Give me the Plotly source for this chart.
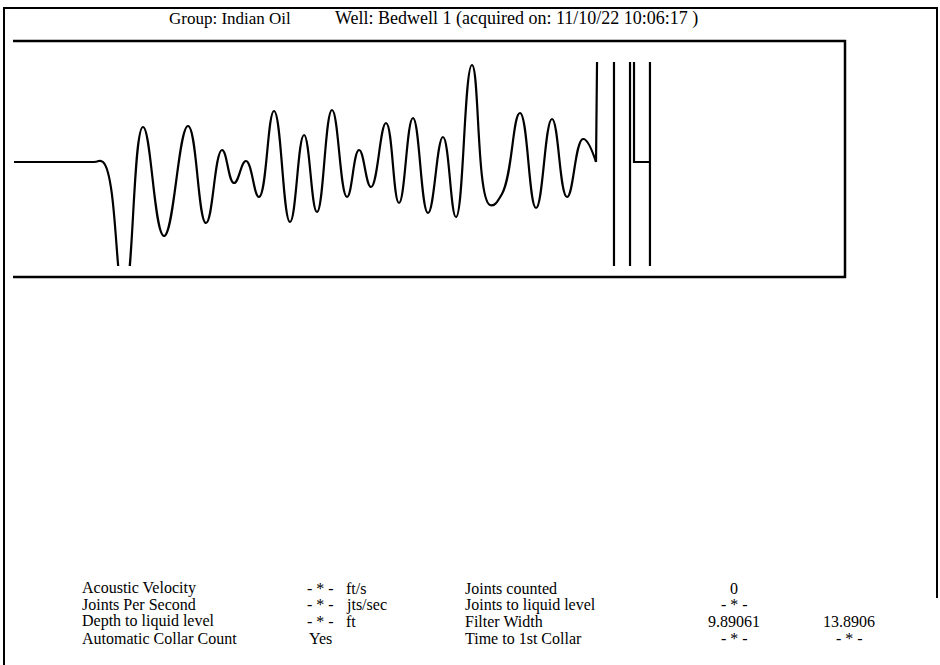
import plotly.graph_objects as go

W, H = 940, 665

# ---- data ----
wave_time = [0.0, 0.96, 1.071, 1.324, 1.552, 1.805, 2.094, 2.310, 2.503, 2.647,
             2.792, 2.948, 3.129, 3.321, 3.490, 3.646, 3.827, 4.007, 4.152, 4.296,
             4.477, 4.633, 4.801, 4.982, 5.162, 5.319, 5.511, 5.728, 5.872, 6.089,
             6.282, 6.474, 6.655, 6.847, 7.004]
wave_amp = [0.0, 0.0, 0.0, -1.35, 0.35, -0.74, 0.36, -0.61, 0.12, -0.21,
            0.01, -0.35, 0.51, -0.60, 0.27, -0.50, 0.52, -0.35, 0.12, -0.25,
            0.39, -0.41, 0.44, -0.51, 0.25, -0.55, 0.97, -0.43, -0.32, 0.49,
            -0.46, 0.43, -0.35, 0.23, 0.0]

tail_time = [7.004, 7.040, 7.220, 7.220, 7.413, 7.413, 7.461, 7.461, 7.653, 7.653, 7.653]
tail_amp = [0.0, 3.0, 3.0, -3.0, -3.0, 3.0, 3.0, 0.0, 0.0, 3.0, -3.0]

title_group = "Group: Indian Oil"
title_well = "Well: Bedwell 1 (acquired on: 11/10/22 10:06:17 )"

left_labels = ["Acoustic Velocity", "Joints Per Second", "Depth to liquid level", "Automatic Collar Count"]
left_values = ["- * -", "- * -", "- * -", "Yes"]
left_units = ["ft/s", "jts/sec", "ft", ""]
right_labels = ["Joints counted", "Joints to liquid level", "Filter Width", "Time to 1st Collar"]
right_values1 = ["0", "- * -", "9.89061", "- * -"]
right_values2 = ["", "", "13.8906", "- * -"]

# ---- figure ----
def px(x):
    return x / W

def py(y):
    return 1 - y / H

fig = go.Figure()
fig.add_trace(go.Scatter(x=wave_time, y=wave_amp, mode="lines",
                         line=dict(color="black", width=2.2, shape="spline", smoothing=1.3),
                         hoverinfo="skip", showlegend=False))
fig.add_trace(go.Scatter(x=tail_time, y=tail_amp, mode="lines",
                         line=dict(color="black", width=2.2),
                         hoverinfo="skip", showlegend=False))

FONT = "Liberation Serif"
ann = []
ann.append(dict(text=title_group, x=px(292), y=py(18), xanchor="right", yanchor="middle",
                font=dict(family=FONT, size=17, color="black")))
ann.append(dict(text=title_well, x=px(334), y=py(18), xanchor="left", yanchor="middle",
                font=dict(family=FONT, size=18, color="black")))

row_y = [588, 604.7, 621.3, 638]
tf = dict(family=FONT, size=16, color="black")
for i in range(4):
    yy = py(row_y[i])
    ann.append(dict(text=left_labels[i], x=px(81), y=yy, xanchor="left", yanchor="middle", font=tf))
    ann.append(dict(text=left_values[i], x=px(320), y=yy, xanchor="center", yanchor="middle", font=tf))
    if left_units[i]:
        ann.append(dict(text=left_units[i], x=px(345), y=yy, xanchor="left", yanchor="middle", font=tf))
    ann.append(dict(text=right_labels[i], x=px(464), y=yy, xanchor="left", yanchor="middle", font=tf))
    ann.append(dict(text=right_values1[i], x=px(734), y=yy, xanchor="center", yanchor="middle", font=tf))
    if right_values2[i]:
        ann.append(dict(text=right_values2[i], x=px(849), y=yy, xanchor="center", yanchor="middle", font=tf))
for a in ann:
    a.update(xref="paper", yref="paper", showarrow=False, borderpad=0)

shapes = []
def hline(x0, x1, y, w):
    shapes.append(dict(type="line", xref="paper", yref="paper", x0=px(x0), x1=px(x1),
                       y0=py(y), y1=py(y), line=dict(color="black", width=w)))
def vline(x, y0, y1, w):
    shapes.append(dict(type="line", xref="paper", yref="paper", x0=px(x), x1=px(x),
                       y0=py(y0), y1=py(y1), line=dict(color="black", width=w)))

# outer frame
hline(3, 938, 8, 2)
vline(4, 7, 665, 2)
vline(937, 8, 598, 2)
# inner box
hline(13, 846, 41, 2.5)
hline(13, 846, 277, 2.5)
vline(845, 40, 278, 2.5)

fig.update_layout(
    width=W, height=H,
    margin=dict(l=0, r=0, t=0, b=0),
    paper_bgcolor="white", plot_bgcolor="white",
    xaxis=dict(domain=[px(14), px(845)], range=[0, 10], visible=False, fixedrange=True),
    yaxis=dict(domain=[py(266), py(62)], range=[-1.04, 1.0], visible=False, fixedrange=True),
    annotations=ann, shapes=shapes, showlegend=False,
)

fig.write_html("out.html", config={"displayModeBar": False},
               post_script="document.body.style.margin='0';document.body.style.overflow='hidden';")
